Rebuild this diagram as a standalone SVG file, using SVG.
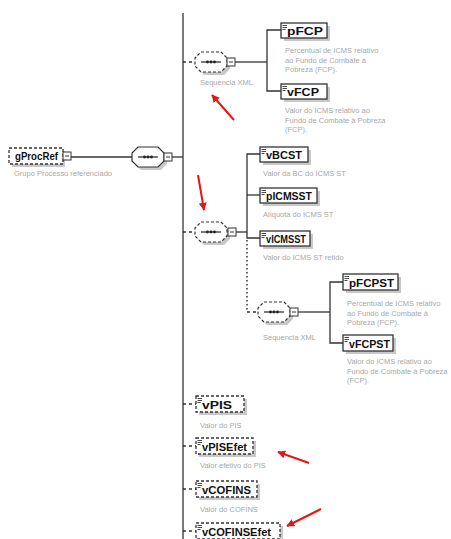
<svg xmlns="http://www.w3.org/2000/svg" width="451" height="539" viewBox="0 0 451 539">
<style>
.bg{fill:#ffffff}
.shadow{fill:#c8c8c8}
.box{fill:#ffffff;stroke:#333333;stroke-width:1.3}
.opt{fill:#ffffff;stroke:#333333;stroke-width:1.3;stroke-dasharray:3 2}
.name{font-family:"Liberation Sans",Arial,sans-serif;font-size:11px;font-weight:bold;fill:#111111}
.desc{font-family:"Liberation Sans",Arial,sans-serif;font-size:7.5px;fill:#a8a8a8}
.ln{stroke:#333333;stroke-width:1.3;fill:none}
.dash{stroke:#333333;stroke-width:1.3;fill:none;stroke-dasharray:3 3}
.dot{stroke:#333333;stroke-width:1.5;fill:none;stroke-dasharray:1.5 2.5}
.ic{stroke:#333333;stroke-width:0.9}
.mb{fill:#ffffff;stroke:#333333;stroke-width:1}
.red{stroke:#e01818;stroke-width:2;fill:none}
</style>
<defs>
<marker id="ah" viewBox="0 0 10 10" refX="9" refY="5" markerWidth="4" markerHeight="4" orient="auto">
<path d="M0,0 L10,5 L0,10 z" fill="#e01818"/>
</marker>
<g id="icon">
<line class="ic" x1="1.5" y1="2.5" x2="6" y2="2.5"/>
<line class="ic" x1="1.5" y1="4.5" x2="6" y2="4.5"/>
<line class="ic" x1="1.5" y1="6.5" x2="4.5" y2="6.5"/>
</g>
<g id="minus">
<rect class="mb" x="0" y="0" width="8" height="8"/>
<line x1="2" y1="4" x2="6" y2="4" stroke="#333" stroke-width="1"/>
</g>
<path id="seqshape" d="M6,0 H26 L32,6 V14 L26,20 H6 L0,14 V6 Z"/>
<g id="seqinner">
<line x1="6" y1="10" x2="26" y2="10" stroke="#222" stroke-width="1.2"/>
<circle cx="12.5" cy="10" r="1.4" fill="#222"/>
<circle cx="16" cy="10" r="1.4" fill="#222"/>
<circle cx="19.5" cy="10" r="1.4" fill="#222"/>
</g>
</defs>
<rect class="bg" x="0" y="0" width="451" height="539"/>

<g id="connectors">
<line class="ln" x1="71" y1="157" x2="132" y2="157"/>
<line class="ln" x1="172" y1="157" x2="183" y2="157"/>
<line class="ln" x1="183" y1="13" x2="183" y2="539"/>
<line class="dash" x1="183" y1="62" x2="195" y2="62"/>
<line class="ln" x1="235" y1="62" x2="267" y2="62"/>
<polyline class="ln" points="281,30 267,30 267,91 281,91"/>
<line class="dash" x1="183" y1="232" x2="195" y2="232"/>
<line class="ln" x1="236" y1="232" x2="247" y2="232"/>
<polyline class="ln" points="260,154 247,154 247,238 260,238"/>
<line class="ln" x1="247" y1="195" x2="260" y2="195"/>
<line class="dot" x1="247" y1="240" x2="247" y2="312"/>
<line class="dash" x1="247" y1="312" x2="259" y2="312"/>
<line class="ln" x1="298" y1="312" x2="330" y2="312"/>
<polyline class="ln" points="343,282 330,282 330,343 343,343"/>
<line class="dash" x1="183" y1="404" x2="196" y2="404"/>
<line class="dash" x1="183" y1="446" x2="196" y2="446"/>
<line class="dash" x1="183" y1="489" x2="196" y2="489"/>
<line class="dash" x1="183" y1="531" x2="196" y2="531"/>
</g>

<g id="gProcRef">
<rect class="shadow" x="12" y="151" width="53" height="16"/>
<rect class="opt" x="9" y="148" width="54" height="16"/>
<text class="name" x="15" y="160" textLength="43" lengthAdjust="spacingAndGlyphs">gProcRef</text>
<use href="#minus" x="63" y="152"/>
<text class="desc" x="14" y="176">Grupo Processo referenciado</text>
</g>

<g id="seqMain">
<use href="#seqshape" x="135" y="150" class="shadow"/>
<use href="#seqshape" x="132" y="147" fill="#ffffff" stroke="#333333" stroke-width="1.2"/>
<use href="#seqinner" x="132" y="147"/>
<use href="#minus" x="164" y="153"/>
</g>

<g id="seqFCP">
<use href="#seqshape" x="198" y="55" class="shadow"/>
<use href="#seqshape" x="195" y="52" fill="#ffffff" stroke="#333333" stroke-width="1.2" stroke-dasharray="3 2"/>
<use href="#seqinner" x="195" y="52"/>
<use href="#minus" x="227" y="58"/>
<text class="desc" x="200" y="85">Sequencia XML</text>
</g>

<g id="pFCP">
<rect class="shadow" x="284" y="26" width="46" height="15"/>
<rect class="box" x="281" y="23" width="46" height="15"/>
<use href="#icon" x="281" y="23"/>
<text class="name" x="287" y="35" textLength="36" lengthAdjust="spacingAndGlyphs">pFCP</text>
<text class="desc" x="285" y="53">Percentual de ICMS relativo</text>
<text class="desc" x="285" y="62.5">ao Fundo de Combate à</text>
<text class="desc" x="285" y="72">Pobreza (FCP).</text>
</g>

<g id="vFCP">
<rect class="shadow" x="284" y="87" width="46" height="15"/>
<rect class="box" x="281" y="84" width="46" height="15"/>
<use href="#icon" x="281" y="84"/>
<text class="name" x="287" y="96" textLength="32" lengthAdjust="spacingAndGlyphs">vFCP</text>
<text class="desc" x="285" y="113">Valor do ICMS relativo ao</text>
<text class="desc" x="285" y="122.5">Fundo de Combate à Pobreza</text>
<text class="desc" x="285" y="132">(FCP).</text>
</g>

<g id="seqST">
<use href="#seqshape" x="198" y="225" class="shadow"/>
<use href="#seqshape" x="195" y="222" fill="#ffffff" stroke="#333333" stroke-width="1.2" stroke-dasharray="3 2"/>
<use href="#seqinner" x="195" y="222"/>
<use href="#minus" x="228" y="228"/>
</g>

<g id="vBCST">
<rect class="shadow" x="263" y="150" width="48" height="15"/>
<rect class="box" x="260" y="147" width="48" height="15"/>
<use href="#icon" x="260" y="147"/>
<text class="name" x="266" y="159" textLength="36" lengthAdjust="spacingAndGlyphs">vBCST</text>
<text class="desc" x="263" y="176">Valor da BC do ICMS ST</text>
</g>

<g id="pICMSST">
<rect class="shadow" x="263" y="191" width="57" height="15"/>
<rect class="box" x="260" y="188" width="57" height="15"/>
<use href="#icon" x="260" y="188"/>
<text class="name" x="266" y="200" textLength="46" lengthAdjust="spacingAndGlyphs">pICMSST</text>
<text class="desc" x="263" y="217">Alíquota do ICMS ST</text>
</g>

<g id="vICMSST">
<rect class="shadow" x="263" y="234" width="50" height="15"/>
<rect class="box" x="260" y="231" width="50" height="15"/>
<use href="#icon" x="260" y="231"/>
<text class="name" x="266" y="243" textLength="40" lengthAdjust="spacingAndGlyphs">vICMSST</text>
<text class="desc" x="263" y="260">Valor do ICMS ST retido</text>
</g>

<g id="seqFCPST">
<use href="#seqshape" x="261" y="305" class="shadow"/>
<use href="#seqshape" x="258" y="302" fill="#ffffff" stroke="#333333" stroke-width="1.2" stroke-dasharray="3 2"/>
<use href="#seqinner" x="258" y="302"/>
<use href="#minus" x="290" y="308"/>
<text class="desc" x="263" y="340">Sequencia XML</text>
</g>

<g id="pFCPST">
<rect class="shadow" x="346" y="277" width="55" height="16"/>
<rect class="box" x="343" y="274" width="55" height="16"/>
<use href="#icon" x="343" y="274"/>
<text class="name" x="349" y="286.5" textLength="45" lengthAdjust="spacingAndGlyphs">pFCPST</text>
<text class="desc" x="347" y="306">Percentual de ICMS relativo</text>
<text class="desc" x="347" y="315.5">ao Fundo de Combate à</text>
<text class="desc" x="347" y="325">Pobreza (FCP).</text>
</g>

<g id="vFCPST">
<rect class="shadow" x="346" y="338" width="50" height="16"/>
<rect class="box" x="343" y="335" width="50" height="16"/>
<use href="#icon" x="343" y="335"/>
<text class="name" x="349" y="347.5" textLength="41" lengthAdjust="spacingAndGlyphs">vFCPST</text>
<text class="desc" x="347" y="364">Valor do ICMS relativo ao</text>
<text class="desc" x="347" y="373.5">Fundo de Combate à Pobreza</text>
<text class="desc" x="347" y="383">(FCP).</text>
</g>

<g id="vPIS">
<rect class="shadow" x="199" y="399" width="48" height="16"/>
<rect class="opt" x="196" y="396" width="48" height="16"/>
<use href="#icon" x="196" y="396"/>
<text class="name" x="202" y="408.5" textLength="30" lengthAdjust="spacingAndGlyphs">vPIS</text>
<text class="desc" x="200" y="428">Valor do PIS</text>
</g>

<g id="vPISEfet">
<rect class="shadow" x="199" y="441" width="57" height="16"/>
<rect class="opt" x="196" y="438" width="57" height="16"/>
<use href="#icon" x="196" y="438"/>
<text class="name" x="202" y="450.5" textLength="45" lengthAdjust="spacingAndGlyphs">vPISEfet</text>
<text class="desc" x="200" y="468">Valor efetivo do PIS</text>
</g>

<g id="vCOFINS">
<rect class="shadow" x="199" y="484" width="61" height="16"/>
<rect class="opt" x="196" y="481" width="61" height="16"/>
<use href="#icon" x="196" y="481"/>
<text class="name" x="202" y="493.5" textLength="49" lengthAdjust="spacingAndGlyphs">vCOFINS</text>
<text class="desc" x="200" y="512">Valor do COFINS</text>
</g>

<g id="vCOFINSEfet">
<rect class="shadow" x="199" y="526" width="84" height="16"/>
<rect class="opt" x="196" y="523" width="84" height="16"/>
<use href="#icon" x="196" y="523"/>
<text class="name" x="202" y="535.5" textLength="69" lengthAdjust="spacingAndGlyphs">vCOFINSEfet</text>
</g>

<g id="annotations">
<line class="red" x1="234" y1="120" x2="212" y2="95" marker-end="url(#ah)"/>
<line class="red" x1="198" y1="175" x2="204" y2="210" marker-end="url(#ah)"/>
<line class="red" x1="309" y1="463" x2="278" y2="452" marker-end="url(#ah)"/>
<line class="red" x1="321" y1="509" x2="287" y2="526" marker-end="url(#ah)"/>
</g>
</svg>
